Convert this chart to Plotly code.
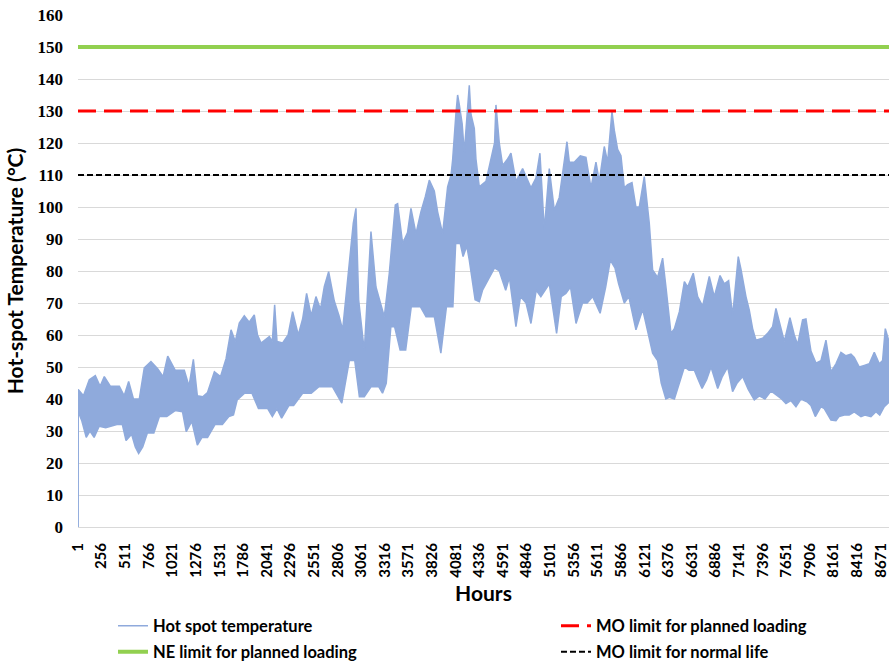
import plotly.graph_objects as go

# Hourly hot-spot temperature over the year, described by its upper and lower envelope
upper_hours = [1, 3, 60, 123, 188, 240, 285, 350, 447, 500, 548, 600, 663, 717, 789, 861, 920, 970,
               1050, 1149, 1200, 1247, 1290, 1348, 1400, 1474, 1540, 1600, 1654, 1700, 1743, 1797,
               1850, 1905, 1940, 1978, 2067, 2100, 2125, 2150, 2211, 2270, 2319, 2380, 2427, 2470,
               2520, 2571, 2620, 2661, 2708, 2769, 2820, 2859, 2931, 2974, 3003, 3032, 3093, 3165,
               3219, 3270, 3309, 3363, 3428, 3453, 3507, 3560, 3597, 3651, 3705, 3752, 3795, 3849,
               3885, 3939, 3993, 4030, 4047, 4083, 4101, 4119, 4150, 4173, 4200, 4227, 4245, 4281,
               4299, 4335, 4407, 4461, 4500, 4515, 4551, 4587, 4641, 4677, 4731, 4803, 4893, 4947,
               4990, 5037, 5091, 5145, 5199, 5282, 5307, 5361, 5426, 5487, 5541, 5595, 5631, 5685,
               5721, 5768, 5793, 5829, 5865, 5901, 5937, 5984, 6027, 6063, 6117, 6171, 6207, 6261,
               6315, 6351, 6405, 6442, 6477, 6496, 6550, 6585, 6646, 6693, 6747, 6819, 6873, 6935,
               6981, 7028, 7071, 7132, 7162, 7215, 7251, 7287, 7323, 7395, 7449, 7503, 7539, 7593,
               7629, 7690, 7737, 7773, 7827, 7863, 7917, 7971, 8025, 8079, 8133, 8187, 8241, 8295,
               8349, 8385, 8439, 8493, 8547, 8601, 8655, 8691, 8720, 8760]
upper_temp = [0, 43, 41, 46, 47.3, 44, 47, 44, 44, 41, 45.5, 40, 40, 49.7, 51.7, 49.5, 47, 53.4,
              49, 49, 44, 52.4, 41, 40.7, 42, 48.5, 47, 52.6, 61.6, 58, 63.7, 66,
              64, 66.3, 60, 57.5, 59.5, 58, 69.4, 58, 57.5, 60, 67.3, 60, 65, 73,
              66, 72, 68, 75.1, 79.8, 70.6, 66, 61.6, 82.4, 94.9, 99.6, 71, 55, 92.3,
              75, 70, 65.7, 79.3, 100.6, 101, 88.6, 92, 99.6, 91.7, 98.5, 103.2, 108.4, 105,
              98.5, 91.7, 106.3, 110, 114.7, 129.3, 135, 132, 126, 117, 128, 138, 129, 124.6,
              115, 106.3, 108, 115.2, 120, 131.9, 120, 113, 115, 116.8, 108, 112, 106, 109,
              116.8, 92.8, 112, 99, 103, 120.4, 114, 114, 116, 115.5, 106, 114, 108, 118.9,
              114, 129.8, 124, 118, 116, 106, 107, 107.6, 100, 100, 109.5, 94.9, 80.3, 78,
              84, 75, 60.5, 62, 65, 67.3, 76.7, 75, 79.3, 72, 69, 78.3, 72, 78.6,
              76, 77, 66, 84.5, 80.4, 72, 67.8, 62, 58.4, 59, 60.5, 62.6, 68.3, 62,
              58, 65.4, 60, 57, 64.7, 65, 55, 51.2, 52, 58.4, 48.5, 51, 54.6, 53.5,
              54, 53, 50, 50.5, 51, 54.6, 51, 52, 62, 58]

lower_hours = [1, 3, 40, 90, 130, 175, 230, 300, 420, 480, 520, 580, 620, 656, 700, 750, 820, 880,
               960, 1050, 1130, 1170, 1230, 1290, 1340, 1400, 1480, 1560, 1630, 1680, 1720, 1800,
               1880, 1950, 2050, 2100, 2150, 2200, 2280, 2330, 2427, 2520, 2600, 2750, 2850, 2931,
               2990, 3040, 3093, 3165, 3250, 3290, 3330, 3380, 3420, 3480, 3540, 3600, 3700, 3760,
               3850, 3920, 3980, 4050, 4080, 4130, 4160, 4200, 4227, 4290, 4335, 4370, 4440, 4500,
               4551, 4620, 4660, 4731, 4780, 4840, 4893, 4950, 5000, 5091, 5170, 5220, 5270, 5320,
               5380, 5450, 5500, 5560, 5640, 5700, 5750, 5800, 5840, 5901, 5950, 6027, 6100, 6171,
               6207, 6261, 6300, 6350, 6388, 6442, 6496, 6550, 6600, 6658, 6700, 6741, 6790, 6838,
               6910, 6960, 7018, 7071, 7120, 7180, 7240, 7305, 7360, 7420, 7485, 7550, 7600, 7647,
               7700, 7755, 7809, 7880, 7917, 7964, 8025, 8061, 8133, 8187, 8220, 8277, 8330, 8385,
               8457, 8500, 8565, 8619, 8660, 8709, 8760]
lower_temp = [0, 36, 33.4, 28, 30, 28, 31.5, 31, 32, 32, 27, 29, 25, 23, 25, 29.4, 29.4, 34.5,
              34.5, 36.4, 36, 29.8, 33, 25.6, 28, 28, 32, 32, 34.5, 35, 39.7, 41.8,
              41.8, 37, 37, 34.5, 37, 34, 38, 38, 41.8, 41.8, 43.8, 43.8, 38.7, 52,
              52, 40.7, 40.7, 43.8, 43.8, 41.8, 44.9, 62.6, 62.6, 55.3, 55.3, 68.8, 68.8, 65.7,
              65.7, 54.3, 68.8, 68.8, 88.6, 88.6, 84.5, 87.8, 83.4, 71, 70.4, 74, 77.8, 81,
              80, 74, 78, 62.6, 72, 70, 63.6, 74, 72, 76, 60.5, 72, 73, 75,
              63.6, 70, 70, 72, 66.8, 75, 83.4, 81, 76, 70, 72, 61.6, 68, 59.5,
              54.3, 52, 45, 40, 40.5, 40, 45, 50, 49, 49, 46, 43.3, 46, 50,
              43.3, 47, 50, 42.3, 45, 47, 43, 39.7, 41, 40, 42.5, 41, 40, 38.6,
              39.5, 37.6, 40, 39, 38, 34.5, 37.6, 37, 33.4, 33.2, 34.5, 35, 35, 36,
              34.5, 35, 34.5, 36, 35, 37.6, 39]

# Loading limits (°C)
ne_planned_limit = 150
mo_planned_limit = 130
mo_normal_limit = 110

x_tick_labels = [1, 256, 511, 766, 1021, 1276, 1531, 1786, 2041, 2296, 2551, 2806, 3061, 3316,
                 3571, 3826, 4081, 4336, 4591, 4846, 5101, 5356, 5611, 5866, 6121, 6376, 6631,
                 6886, 7141, 7396, 7651, 7906, 8161, 8416, 8671]
y_tick_labels = [0, 10, 20, 30, 40, 50, 60, 70, 80, 90, 100, 110, 120, 130, 140, 150, 160]

BLUE = "#8FAADC"
SANS = "Lato"
SERIF = "Liberation Serif"

span = [upper_hours[0], upper_hours[-1]]

fig = go.Figure()

fig.add_trace(go.Scatter(
    x=upper_hours, y=upper_temp, mode="lines", name="Hot spot temperature",
    line=dict(color=BLUE, width=1.5), legend="legend", hoverinfo="skip"))
fig.add_trace(go.Scatter(
    x=lower_hours, y=lower_temp, mode="lines", showlegend=False,
    line=dict(color=BLUE, width=1.5), fill="tonexty", fillcolor=BLUE, hoverinfo="skip"))

fig.add_trace(go.Scatter(
    x=span, y=[mo_planned_limit] * 2, mode="lines", name="MO limit for planned loading",
    line=dict(color="#FF0000", width=3, dash="18px,8px"), legend="legend2"))
fig.add_trace(go.Scatter(
    x=span, y=[ne_planned_limit] * 2, mode="lines", name="NE limit for planned loading",
    line=dict(color="#92D050", width=4), legend="legend3"))
fig.add_trace(go.Scatter(
    x=span, y=[mo_normal_limit] * 2, mode="lines", name="MO limit for normal life",
    line=dict(color="#000000", width=2.2, dash="6px,3px"), legend="legend4"))

# One single-entry legend per slot of the 2x2 key under the axis title,
# placed relative to the whole figure so it does not shrink the plot area
legend_common = dict(
    orientation="h", xref="container", yref="container", xanchor="left", yanchor="middle",
    font=dict(family=SANS, size=16.5, color="#000000", weight="bold"),
    bgcolor="rgba(0,0,0,0)", borderwidth=0, itemclick=False, itemdoubleclick=False)
col_left, col_right = 113 / 889, 556 / 889
row_top, row_bottom = 1 - 626 / 665, 1 - 652 / 665

fig.update_layout(
    width=889, height=665,
    margin=dict(l=78, r=0, t=15, b=138, autoexpand=False),
    paper_bgcolor="white", plot_bgcolor="white",
    legend=dict(legend_common, x=col_left, y=row_top),
    legend2=dict(legend_common, x=col_right, y=row_top),
    legend3=dict(legend_common, x=col_left, y=row_bottom),
    legend4=dict(legend_common, x=col_right, y=row_bottom),
    xaxis=dict(
        range=span, tickmode="array", tickvals=x_tick_labels,
        ticktext=[str(v) for v in x_tick_labels], tickangle=-90,
        tickfont=dict(family=SANS, size=15, color="#000000", weight="bold"),
        ticklabelstandoff=9, showgrid=False, zeroline=False, automargin=False,
        showline=True, linecolor="#D9D9D9", linewidth=1, ticks="",
        title=dict(text="Hours", standoff=9,
                   font=dict(family=SANS, size=21, color="#000000", weight="bold"))),
    yaxis=dict(
        range=[0, 160], tickmode="array", tickvals=y_tick_labels,
        tickfont=dict(family=SERIF, size=17, color="#000000", weight="bold"),
        ticklabelstandoff=14, showgrid=True, gridcolor="#D9D9D9", gridwidth=1,
        zeroline=False, showline=False, ticks="", automargin=False,
        title=dict(text="Hot-spot Temperature (°C)", standoff=8,
                   font=dict(family=SANS, size=21, color="#000000", weight="bold"))),
)

fig.write_html("out.html")
